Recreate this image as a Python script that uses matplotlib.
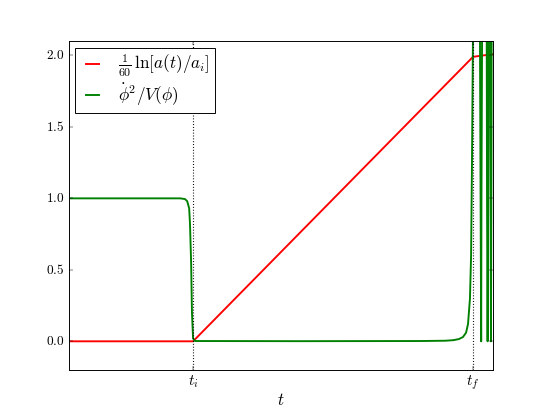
import matplotlib
matplotlib.use("Agg")
import matplotlib.pyplot as plt

plt.style.use("classic")
plt.rcParams["mathtext.fontset"] = "cm"
plt.rcParams["font.family"] = "serif"
plt.rcParams["font.serif"] = ["cmr10", "DejaVu Serif"]
plt.rcParams["axes.formatter.use_mathtext"] = True

# time axis scaled so that t_i = 0 and t_f = 1
t_i = 0.0
t_f = 1.0

# scale factor (1/60) ln[a(t)/a_i]
t_red = [-0.45, 0.0, 1.0, 1.075]
lna = [0.0, 0.0, 1.99, 2.01]

# phi_dot^2 / V(phi)
t_green = [-0.45, -0.046, -0.029, -0.021, -0.014, -0.011, -0.007, -0.004,
           0.0, 0.007, 0.382, 0.811, 0.9, 0.93, 0.95, 0.964, 0.975, 0.982,
           0.989, 0.993, 0.996, 1.0, 1.004, 1.012, 1.023, 1.027, 1.029,
           1.030, 1.034, 1.041, 1.048, 1.050, 1.052, 1.054, 1.057, 1.061,
           1.062, 1.064, 1.066, 1.069, 1.075]
ratio = [1.0, 1.0, 0.995, 0.98, 0.93, 0.82, 0.55, 0.2,
         0.02, 0.002, 0.001, 0.002, 0.004, 0.008, 0.016, 0.03, 0.06, 0.12,
         0.3, 0.6, 1.2, 2.2, 3.5, 12.0, 3.0, 1.0, 0.0,
         1.0, 3.0, 12.0, 3.0, 1.0, 0.0, 1.0, 3.0, 6.0,
         1.5, 0.0, 1.5, 6.0, 12.0]

fig, ax = plt.subplots(figsize=(8, 6), dpi=68.5)

ax.plot(t_red, lna, color="red", lw=2, label=r"$\frac{1}{60}\,\ln[a(t)/a_i]$")
ax.plot(t_green, ratio, color="green", lw=2, label=r"$\dot\phi^2/V(\phi)$")

ax.axvline(t_i, color="black", ls=(0, (1, 2)), lw=1.2)
ax.axvline(t_f, color="black", ls=(0, (1, 2)), lw=1.2)

ax.set_xlim(-0.445, 1.072)
ax.set_ylim(-0.2, 2.1)
ax.set_yticks([0.0, 0.5, 1.0, 1.5, 2.0])
ax.set_xticks([t_i, t_f])
ax.set_xticklabels([r"$t_i$", r"$t_f$"])
ax.tick_params(axis="y", labelsize=14)
ax.tick_params(axis="x", labelsize=16)
ax.set_xlabel(r"$t$", fontsize=18, labelpad=0)

ax.legend(loc="upper left", fontsize=18, handlelength=1.4,
          labelspacing=0.15, borderpad=0.3, borderaxespad=0.4)

fig.savefig("out.png", dpi=68.5)
